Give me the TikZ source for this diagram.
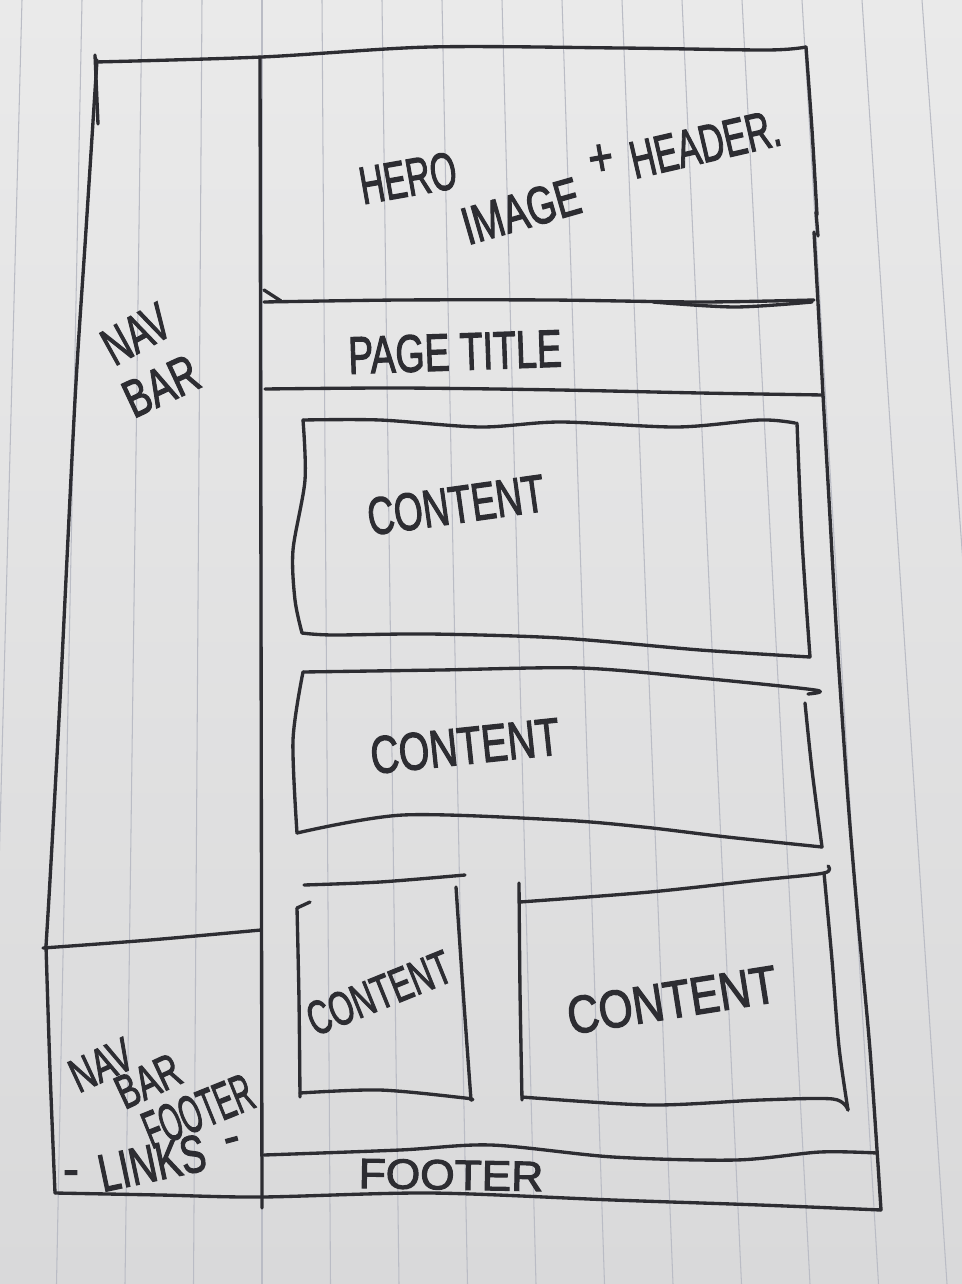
\documentclass[tikz,border=0pt]{standalone}
\usepackage{fontspec}
\setmainfont{Liberation Sans}
\newfontfamily\penfont[FakeBold=2.5]{Liberation Sans}
\usepackage{graphicx}
\definecolor{paperTop}{HTML}{EAEAEA}
\definecolor{paperBot}{HTML}{D9D9DA}
\definecolor{rule}{HTML}{BABCC5}
\definecolor{ink}{HTML}{2D2D32}
% horizontally squeezed lettering
\newcommand{\hand}[2]{\scalebox{#1}[1]{#2}}

\begin{document}
\begin{tikzpicture}[x=0.02cm,y=-0.02cm,
  pen/.style={draw=ink, line width=1.9pt, line cap=round, line join=round},
  ruling/.style={draw=rule, line width=0.6pt},
  lbl/.style={text=ink, inner sep=0pt, font=\penfont\fontsize{30}{30}\selectfont},
  smalllbl/.style={lbl, font=\penfont\fontsize{27}{27}\selectfont}]

% sheet of lined paper
\useasboundingbox (0,0) rectangle (962,1284);
\fill[top color=paperTop, bottom color=paperBot] (0,0) rectangle (962,1284);
\foreach \k in {-4,...,11}
  \draw[ruling] ({262+60*\k},0) -- ({262+68.5*\k},1284);

% outer frame: top, left nav edge, divider, right edge
\draw[pen] plot[smooth, tension=0.5] coordinates {(96,62) (262,57) (430,47) (620,48) (767,50) (806,47)};
\draw[pen] (95,55) -- (98,124);
\draw[pen] plot[smooth, tension=0.5] coordinates {(97,60) (86,230) (75,400) (60,700) (50,880) (46,946)};
\draw[pen] (260,57) -- (261,600) -- (262,1208);
\draw[pen] plot[smooth, tension=0.5] coordinates {(806,47) (812,130) (817,215)};
\draw[pen] (816,212) -- (818,236);
\draw[pen] plot[smooth, tension=0.5] coordinates {(814,232) (818,303) (823,395) (829,500) (837,640) (848,800) (858,920) (870,1050) (881,1210)};

% hero / page title separators
\draw[pen] plot[smooth, tension=0.5] coordinates {(264,302) (400,300) (550,300) (700,302) (814,300)};
\draw[pen] plot[smooth, tension=0.5] coordinates {(653,302) (735,307) (812,302)};
\draw[pen] (264,290) -- (281,301);
\draw[pen] plot[smooth, tension=0.5] coordinates {(265,389) (400,388) (560,390) (700,393) (823,395)};

% content box 1
\draw[pen] plot[smooth, tension=0.5] coordinates {(303,420) (380,420) (480,427) (560,422) (677,427) (760,420) (795,423)};
\draw[pen] plot[smooth, tension=0.5] coordinates {(797,423) (802,540) (810,657)};
\draw[pen] plot[smooth, tension=0.5] coordinates {(810,657) (700,650) (560,638) (430,634) (333,635) (302,633)};
\draw[pen] plot[smooth, tension=0.5] coordinates {(302,633) (295,600) (293,550) (305,480) (303,420)};

% content box 2
\draw[pen] plot[smooth, tension=0.5] coordinates {(303,672) (440,670) (580,668) (700,678) (815,690) (808,694)};
\draw[pen] plot[smooth, tension=0.5] coordinates {(805,703) (812,770) (822,847)};
\draw[pen] plot[smooth, tension=0.5] coordinates {(822,847) (727,837) (643,827) (560,820) (403,815) (297,833)};
\draw[pen] plot[smooth, tension=0.5] coordinates {(297,833) (293,740) (303,672)};

% content box 3
\draw[pen] plot[smooth, tension=0.5] coordinates {(304,885) (380,882) (465,875)};
\draw[pen] (310,902) -- (297,908);
\draw[pen] plot[smooth, tension=0.5] coordinates {(297,908) (299,1000) (300,1097)};
\draw[pen] plot[smooth, tension=0.5] coordinates {(456,887) (463,990) (471,1100)};
\draw[pen] plot[smooth, tension=0.5] coordinates {(300,1093) (380,1090) (465,1098) (471,1100)};

% content box 4
\draw[pen] plot[smooth, tension=0.5] coordinates {(519,883) (520,990) (522,1100)};
\draw[pen] plot[smooth, tension=0.5] coordinates {(520,902) (650,892) (760,880) (824,873) (828,866)};
\draw[pen] plot[smooth, tension=0.5] coordinates {(824,873) (832,960) (839,1047) (848,1110)};
\draw[pen] plot[smooth, tension=0.5] coordinates {(522,1097) (650,1105) (760,1100) (833,1099) (848,1110)};

% nav footer block, footer band and bottom edge
\draw[pen] plot[smooth, tension=0.5] coordinates {(43,948) (150,940) (261,930)};
\draw[pen] plot[smooth, tension=0.5] coordinates {(46,946) (50,1070) (55,1193)};
\draw[pen] plot[smooth, tension=0.5] coordinates {(55,1193) (160,1195) (261,1197) (430,1193) (613,1200) (760,1205) (881,1210)};
\draw[pen] plot[smooth, tension=0.5] coordinates {(264,1155) (400,1150) (491,1145) (613,1157) (736,1160) (820,1152) (877,1153)};

% lettering
\node[lbl, rotate=10] (hero) at (408,178) {\hand{0.64}{HERO}};
\node[lbl, rotate=16] (image) at (521,211) {\hand{0.71}{IMAGE}};
\node[lbl, rotate=10] (plus) at (601,160) {\hand{0.8}{+}};
\node[lbl, rotate=13] (header) at (705,144) {\hand{0.65}{HEADER.}};
\node[lbl, rotate=2] (title) at (455,352) {\hand{0.71}{PAGE TITLE}};
\node[lbl, rotate=29] (navtop) at (136,334) {\hand{0.66}{NAV}};
\node[lbl, rotate=25] (bartop) at (161,386) {\hand{0.71}{BAR}};
\node[lbl, rotate=8] (contentA) at (456,505) {\hand{0.7}{CONTENT}};
\node[lbl, rotate=6] (contentB) at (465,746) {\hand{0.745}{CONTENT}};
\node[smalllbl, rotate=22] (contentC) at (379,993) {\hand{0.66}{CONTENT}};
\node[lbl, rotate=9] (contentD) at (672,1000) {\hand{0.83}{CONTENT}};
\node[lbl, font=\penfont\fontsize{24}{24}\selectfont, rotate=-1] (footer) at (451,1175) {\hand{1.05}{FOOTER}};
\node[smalllbl, rotate=25] (navlow) at (101,1065) {\hand{0.68}{NAV}};
\node[smalllbl, rotate=25] (barlow) at (148,1081) {\hand{0.68}{BAR}};
\node[lbl, rotate=22] (footlow) at (198,1111) {\hand{0.52}{FOOTER}};
\node[lbl, rotate=12] (links) at (152,1163) {\hand{0.71}{LINKS}};
\node[smalllbl] (dashL) at (71,1178) {-};
\node[smalllbl, rotate=15] (dashR) at (233,1145) {-};
\end{tikzpicture}
\end{document}
